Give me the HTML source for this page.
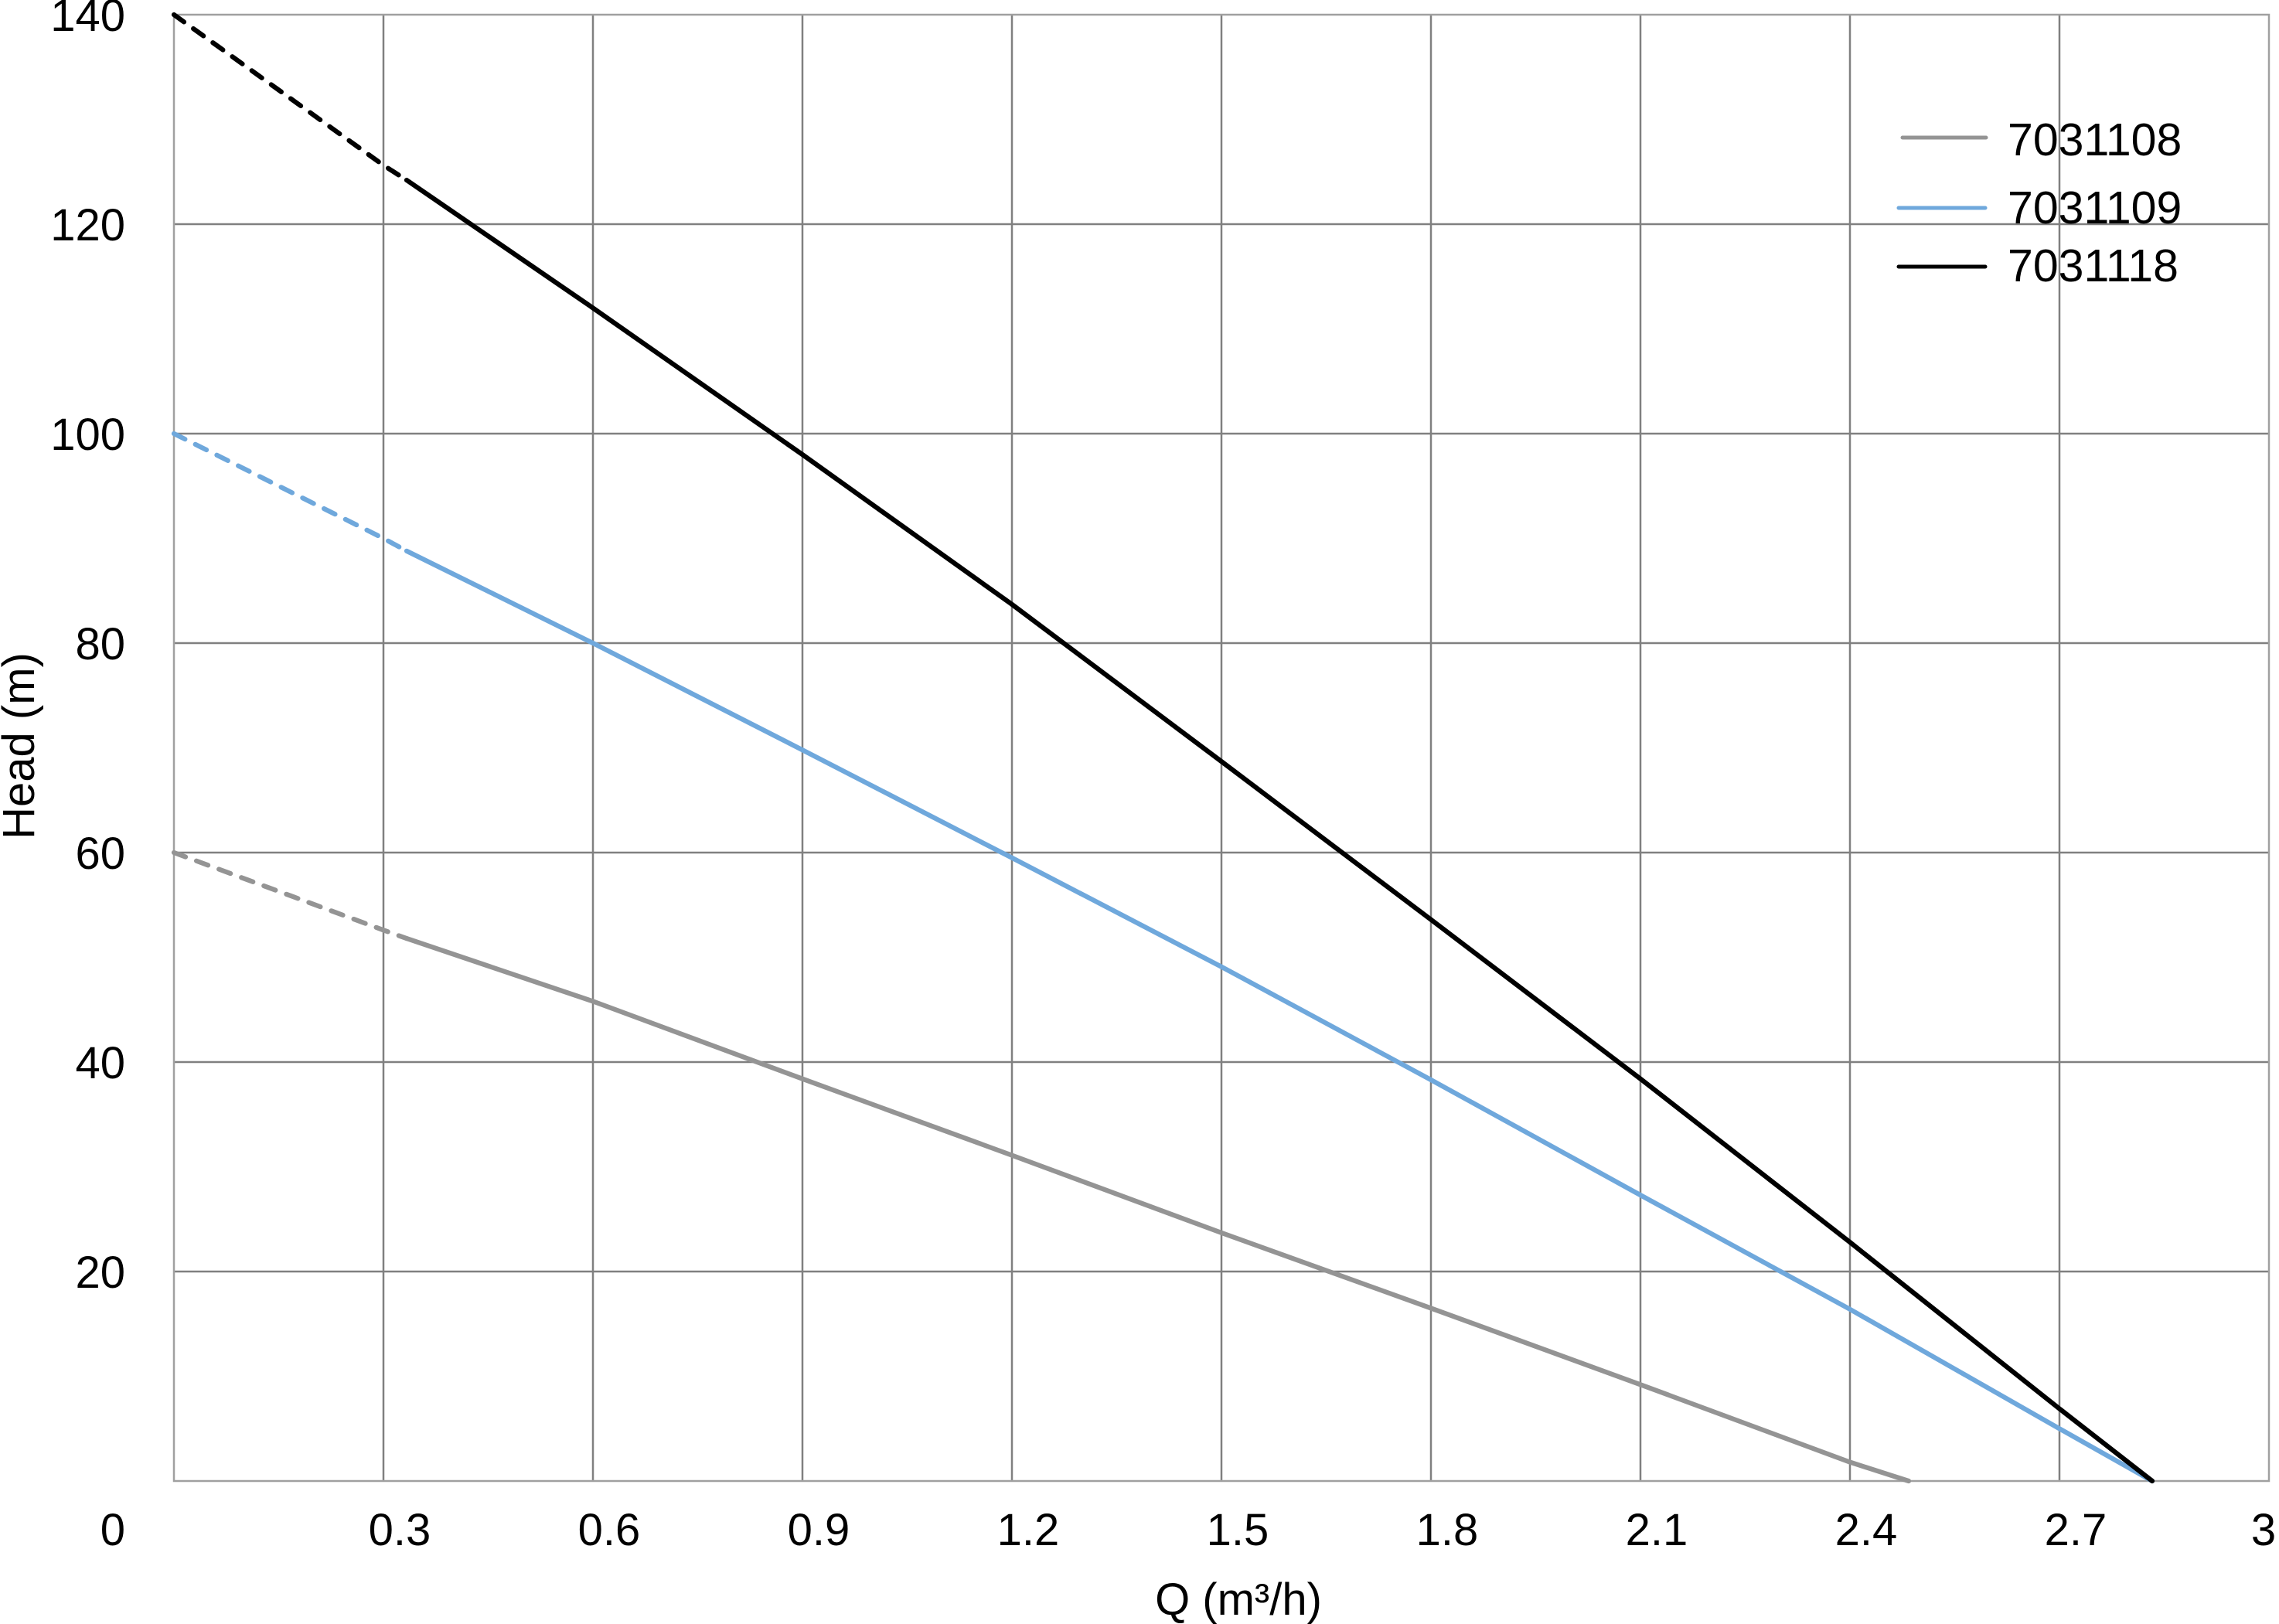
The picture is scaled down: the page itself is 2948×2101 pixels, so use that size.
<!DOCTYPE html>
<html><head><meta charset="utf-8"><style>html,body{margin:0;padding:0;background:#fff}svg{display:block}</style></head>
<body>
<svg width="2948" height="2101" viewBox="0 0 2948 2101" xmlns="http://www.w3.org/2000/svg" font-family="Liberation Sans, Arial, sans-serif">
<rect width="2948" height="2101" fill="#fff"/>
<g stroke="#808080" stroke-width="2.5" fill="none">
<line x1="496" y1="19" x2="496" y2="1916"/>
<line x1="767" y1="19" x2="767" y2="1916"/>
<line x1="1038" y1="19" x2="1038" y2="1916"/>
<line x1="1309" y1="19" x2="1309" y2="1916"/>
<line x1="1580" y1="19" x2="1580" y2="1916"/>
<line x1="1851" y1="19" x2="1851" y2="1916"/>
<line x1="2122" y1="19" x2="2122" y2="1916"/>
<line x1="2393" y1="19" x2="2393" y2="1916"/>
<line x1="2664" y1="19" x2="2664" y2="1916"/>
<line x1="225" y1="290" x2="2935" y2="290"/>
<line x1="225" y1="561" x2="2935" y2="561"/>
<line x1="225" y1="832" x2="2935" y2="832"/>
<line x1="225" y1="1103" x2="2935" y2="1103"/>
<line x1="225" y1="1374" x2="2935" y2="1374"/>
<line x1="225" y1="1645" x2="2935" y2="1645"/>
</g>
<rect x="225" y="19" width="2710" height="1897" fill="none" stroke="#a0a0a0" stroke-width="2.5"/>
<g fill="none" stroke-width="6.2" stroke-linecap="round" stroke-linejoin="round">
<polyline stroke="#949494" stroke-dasharray="16 15" points="225,1103 496,1203.3 526,1214.1"/>
<polyline stroke="#949494" points="526,1214.1 767,1295.4 1038,1395.7 1309,1494.6 1580,1594.9 1851,1692.4 2122,1791.3 2393,1891.6 2469,1916"/>
<polyline stroke="#6fa8dc" stroke-dasharray="16 15" points="225,561 496,696.5 526,712.8"/>
<polyline stroke="#6fa8dc" points="526,712.8 767,832 1038,970.2 1309,1109.8 1580,1250.7 1851,1397 2122,1546.1 2393,1693.8 2664,1848.3 2784,1916"/>
<polyline stroke="#000" stroke-dasharray="16 15" points="225,19 496,213.8 526,233"/>
<polyline stroke="#000" points="526,233 767,398.4 1038,588.1 1309,781.9 1580,985.1 1851,1189.7 2122,1395.7 2393,1607.1 2664,1822.5 2784,1916"/>
</g>
<g font-size="58" fill="#000" text-anchor="end">
<text x="162" y="40">140</text>
<text x="162" y="311">120</text>
<text x="162" y="582">100</text>
<text x="162" y="853">80</text>
<text x="162" y="1124">60</text>
<text x="162" y="1395">40</text>
<text x="162" y="1666">20</text>
<text x="162" y="1999">0</text>
</g>
<g font-size="58" fill="#000" text-anchor="middle">
<text x="517" y="1999">0.3</text>
<text x="788" y="1999">0.6</text>
<text x="1059" y="1999">0.9</text>
<text x="1330" y="1999">1.2</text>
<text x="1601" y="1999">1.5</text>
<text x="1872" y="1999">1.8</text>
<text x="2143" y="1999">2.1</text>
<text x="2414" y="1999">2.4</text>
<text x="2685" y="1999">2.7</text>
<text x="2928" y="1999">3</text>
</g>
<text x="1602" y="2089" font-size="58" text-anchor="middle">Q (m³/h)</text>
<text transform="translate(44,965) rotate(-90)" font-size="58" text-anchor="middle">Head (m)</text>
<g stroke-width="5" stroke-linecap="round">
<line x1="2461" y1="178" x2="2569" y2="178" stroke="#949494"/>
<line x1="2456" y1="269" x2="2568" y2="269" stroke="#6fa8dc"/>
<line x1="2456" y1="345" x2="2568" y2="345" stroke="#000"/>
</g>
<g font-size="59" fill="#000">
<text x="2597" y="201">7031108</text>
<text x="2597" y="289">7031109</text>
<text x="2597" y="364">7031118</text>
</g>
</svg>
</body></html>
